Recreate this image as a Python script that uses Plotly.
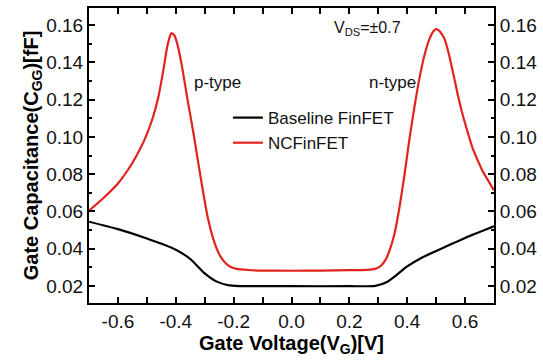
import plotly.graph_objects as go

# Gate voltage (V) and capacitances (fF)
vg_nc = [-0.70, -0.65, -0.60, -0.55, -0.52, -0.50, -0.48, -0.46, -0.44, -0.43,
         -0.42, -0.415, -0.405, -0.395, -0.38, -0.36, -0.34, -0.323, -0.305, -0.289,
         -0.27, -0.254, -0.24, -0.225, -0.21, -0.19, -0.15, -0.10, 0.00, 0.10,
         0.20, 0.26, 0.28, 0.295, 0.31, 0.325, 0.34, 0.356, 0.373, 0.39,
         0.408, 0.425, 0.44, 0.46, 0.477, 0.49, 0.50, 0.51, 0.52, 0.529,
         0.543, 0.557, 0.575, 0.592, 0.61, 0.626, 0.645, 0.661, 0.68, 0.70]
cgg_nc = [0.0604, 0.0672, 0.0750, 0.0860, 0.0945, 0.1015, 0.1100, 0.1215, 0.1385, 0.1480,
          0.1540, 0.1556, 0.1545, 0.1500, 0.1390, 0.1205, 0.1030, 0.0867, 0.0700, 0.0563,
          0.0450, 0.0384, 0.0345, 0.0318, 0.0302, 0.0292, 0.0286, 0.0283, 0.0282, 0.0283,
          0.0285, 0.0287, 0.0289, 0.0295, 0.0310, 0.0340, 0.0395, 0.0480, 0.0620, 0.0790,
          0.0992, 0.1160, 0.1296, 0.1440, 0.1525, 0.1565, 0.1578, 0.1570, 0.1550, 0.1525,
          0.1450, 0.1355, 0.1225, 0.1117, 0.1020, 0.0940, 0.0870, 0.0815, 0.0765, 0.0713]

vg_base = [-0.70, -0.60, -0.50, -0.40, -0.35, -0.30, -0.26, -0.22, -0.18, 0.00,
           0.20, 0.29, 0.33, 0.37, 0.40, 0.45, 0.50, 0.60, 0.70]
cgg_base = [0.0545, 0.0505, 0.0455, 0.0395, 0.0345, 0.0268, 0.0225, 0.0205, 0.0200, 0.0199,
            0.0199, 0.0201, 0.0222, 0.0268, 0.0305, 0.0352, 0.0388, 0.0458, 0.0520]

x_ticks = [-0.6, -0.4, -0.2, 0.0, 0.2, 0.4, 0.6]
x_ticklabels = ["-0.6", "-0.4", "-0.2", "0.0", "0.2", "0.4", "0.6"]
y_ticks = [0.02, 0.04, 0.06, 0.08, 0.10, 0.12, 0.14, 0.16]
y_ticklabels = ["0.02", "0.04", "0.06", "0.08", "0.10", "0.12", "0.14", "0.16"]

FONT = "Arial, Liberation Sans, sans-serif"
RED = "#e2231d"

fig = go.Figure()
fig.add_trace(go.Scatter(x=vg_base, y=cgg_base, mode="lines", name="Baseline FinFET",
                         line=dict(color="black", width=2.2, shape="spline", smoothing=0.6)))
fig.add_trace(go.Scatter(x=vg_nc, y=cgg_nc, mode="lines", name="NCFinFET",
                         line=dict(color=RED, width=2.2, shape="spline", smoothing=0.6)))
# invisible trace to carry the right-hand axis
fig.add_trace(go.Scatter(x=vg_base, y=cgg_base, mode="lines", yaxis="y2", showlegend=False,
                         hoverinfo="skip", line=dict(color="rgba(0,0,0,0)", width=0)))

yr = [0.0109, 0.1691]
common_axis = dict(showgrid=False, zeroline=False, showline=True, linecolor="black",
                   linewidth=2, ticks="inside", ticklen=6, tickwidth=1.5, tickcolor="black",
                   automargin=False,
                   tickfont=dict(family=FONT, size=19, color="#111"))

fig.update_layout(
    width=543, height=364,
    margin=dict(l=89, r=49, t=8, b=61, autoexpand=False),
    paper_bgcolor="white", plot_bgcolor="white",
    font=dict(family=FONT, color="black"),
    xaxis=dict(range=[-0.7, 0.7], tickvals=x_ticks, ticktext=x_ticklabels, mirror="allticks",
               minor=dict(dtick=0.1, tick0=0, ticks="inside", ticklen=3, tickwidth=1.5, tickcolor="black"),
               title=dict(text="<b>Gate Voltage(V<sub>G</sub>)[V]</b>", font=dict(family=FONT, size=20),
                          standoff=4),
               **common_axis),
    yaxis=dict(range=yr, tickvals=y_ticks, ticktext=y_ticklabels, mirror=True,
               minor=dict(dtick=0.01, tick0=0, ticks="inside", ticklen=3, tickwidth=1.5, tickcolor="black"),
               title=dict(text="<b>Gate Capacitance(C<sub>GG</sub>)[fF]</b>", font=dict(family=FONT, size=20),
                          standoff=2),
               **common_axis),
    yaxis2=dict(range=yr, overlaying="y", side="right", tickvals=y_ticks, ticktext=y_ticklabels,
                minor=dict(dtick=0.01, tick0=0, ticks="inside", ticklen=3, tickwidth=1.5, tickcolor="black"),
                **common_axis),
    legend=dict(x=0.343, y=0.688, xanchor="left", yanchor="top", bgcolor="rgba(0,0,0,0)",
                font=dict(family=FONT, size=17, color="#111"), tracegroupgap=0, itemwidth=30),
    showlegend=True,
)

fig.add_annotation(text="V<sub>DS</sub>=±0.7", x=0.139, y=0.158, xref="x", yref="y",
                   xanchor="left", showarrow=False, font=dict(family=FONT, size=16, color="#111"))
fig.add_annotation(text="p-type", x=-0.345, y=0.1294, xref="x", yref="y",
                   xanchor="left", showarrow=False, font=dict(family=FONT, size=17, color="#111"))
fig.add_annotation(text="n-type", x=0.26, y=0.1294, xref="x", yref="y",
                   xanchor="left", showarrow=False, font=dict(family=FONT, size=17, color="#111"))

fig.write_html("out.html", config={"displayModeBar": False},
               post_script="document.body.style.margin='0px';")
